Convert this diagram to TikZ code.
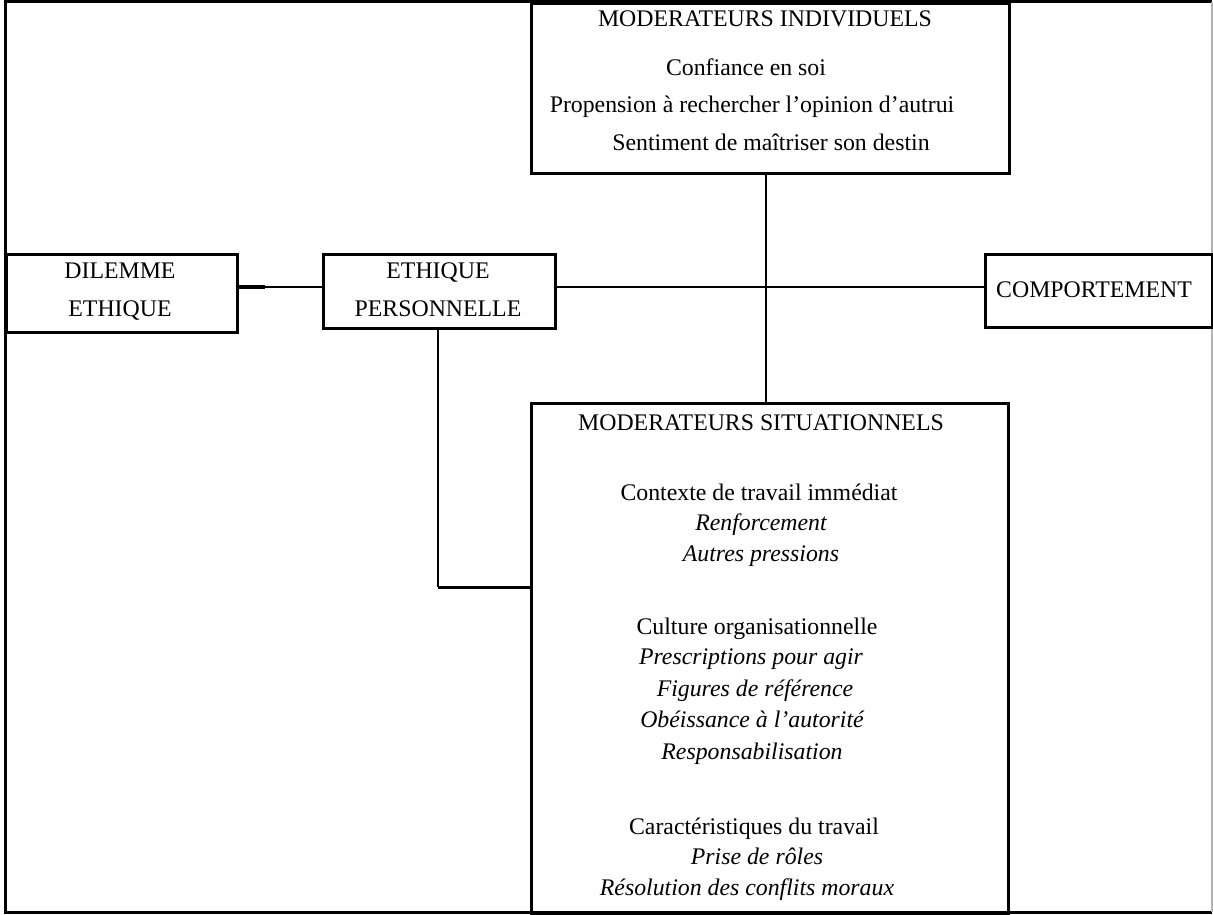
\documentclass[tikz,border=0pt]{standalone}
\usepackage{fontspec}
\setmainfont{Liberation Serif}
\begin{document}
\begin{tikzpicture}[x=1pt,y=-1pt,
  box/.style={draw=black,line width=3pt,inner sep=0pt,anchor=north west},
  txt/.style={inner sep=0pt,anchor=base,font=\fontsize{23.8}{28}\selectfont},
  itxt/.style={txt,font=\fontsize{23.8}{28}\selectfont\itshape},
  conn/.style={draw=black,line width=2.2pt}]
\useasboundingbox (0,0) rectangle (1213,915);
\fill[white] (0,0) rectangle (1213,915);
% outer frame
\draw[line width=3pt] (1212,2) -- (5,2) -- (5,912) -- (1212,912);
\draw[line width=1.8pt,gray!60] (1212,2) -- (1212,912);
% boxes
\node[box,minimum width=478pt,minimum height=170pt] (ind) at (530,2) {};
\node[box,minimum width=231pt,minimum height=78pt] (dil) at (5,253) {};
\node[box,minimum width=232pt,minimum height=74pt] (eth) at (322,253) {};
\node[box,minimum width=227pt,minimum height=73pt] (comp) at (984,253) {};
\node[box,minimum width=477pt,minimum height=510pt] (sit) at (530,402) {};
% connectors
\coordinate (k) at (265,287);
\draw[line width=3.2pt] (dil.east |- k) -- (k);
\draw[conn] (k) -- (eth.west |- k);
\draw[conn] (eth.east |- k) -- (comp.west |- k);
\draw[conn] (766,0 |- ind.south) coordinate (a) -- (a |- sit.north);
\coordinate (b) at (438,587);
\draw[conn] (b |- eth.south) -- (b);
\draw[line width=3pt] (b) -- (sit.west |- b);
% texts in small boxes
\node[txt] (d1) at (120,278) {DILEMME};
\node[txt] (d2) at (120,316) {ETHIQUE};
\node[txt] (e1) at (438,278) {ETHIQUE};
\node[txt] (e2) at (438,316) {PERSONNELLE};
\node[txt] (c1) at (1094,297) {COMPORTEMENT};
% individual moderators
\node[txt] (i0) at (765,27) {MODERATEURS INDIVIDUELS};
\node[txt] (i1) at (746,76) {Confiance en soi};
\node[txt] (i2) at (752,113) {Propension à rechercher l’opinion d’autrui};
\node[txt] (i3) at (771,151) {Sentiment de maîtriser son destin};
% situational moderators
\node[txt] (s0) at (761,430) {MODERATEURS SITUATIONNELS};
\node[txt] (s1) at (759,500) {Contexte de travail immédiat};
\node[itxt] (s2) at (761,530) {Renforcement};
\node[itxt] (s3) at (761,561) {Autres pressions};
\node[txt] (s4) at (757,634) {Culture organisationnelle};
\node[itxt] (s5) at (751,664) {Prescriptions pour agir};
\node[itxt] (s6) at (755,696) {Figures de référence};
\node[itxt] (s7) at (752,727) {Obéissance à l’autorité};
\node[itxt] (s8) at (752,759) {Responsabilisation};
\node[txt] (s9) at (754,834) {Caractéristiques du travail};
\node[itxt] (s10) at (757,864) {Prise de rôles};
\node[itxt] (s11) at (747,895) {Résolution des conflits moraux};
\end{tikzpicture}
\end{document}
